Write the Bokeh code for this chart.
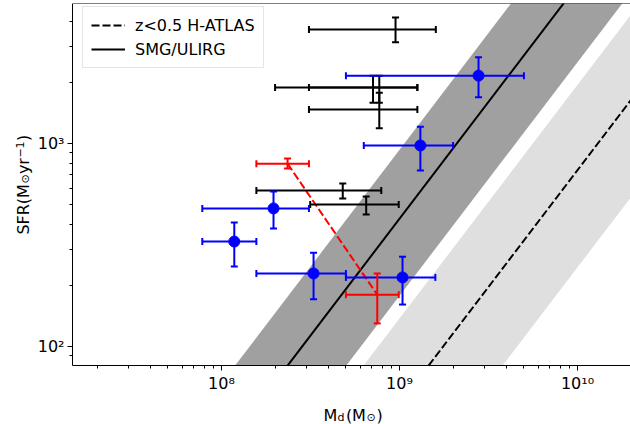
import numpy as np
from bokeh.plotting import figure
from bokeh.models import (ColumnDataSource, Whisker, TeeHead, Label, FixedTicker,
                          CustomJSTickFormatter, Legend, LegendItem, Range1d, LogAxis)
from bokeh.embed import file_html
from bokeh.resources import INLINE

# ---------------- data ----------------
black_md = [9.5e8, 7.1e8, 7.7e8, 7.7e8, 4.8e8, 6.5e8]
black_md_lo = [3.1e8, 2.0e8, 3.1e8, 3.1e8, 1.57e8, 3.15e8]
black_md_hi = [1.6e9, 1.26e9, 1.26e9, 1.26e9, 7.9e8, 9.9e8]
black_sfr = [3650, 1890, 1890, 1470, 587, 501]
black_sfr_lo = [3150, 1590, 1590, 1190, 536, 447]
black_sfr_hi = [4180, 2160, 2160, 1780, 635, 548]

blue_md = [2.78e9, 1.31e9, 1.96e8, 1.18e8, 3.29e8, 1.04e9]
blue_md_lo = [5.0e8, 6.3e8, 7.8e7, 7.8e7, 1.57e8, 5.0e8]
blue_md_hi = [5.0e9, 2.0e9, 3.1e8, 1.57e8, 5.0e8, 1.59e9]
blue_sfr = [2160, 978, 479, 329, 229, 219]
blue_sfr_lo = [1690, 736, 381, 248, 171, 161]
blue_sfr_hi = [2660, 1210, 580, 408, 290, 277]

red_md = [2.35e8, 7.5e8]
red_md_lo = [1.57e8, 5.0e8]
red_md_hi = [3.1e8, 9.9e8]
red_sfr = [796, 180]
red_sfr_lo = [753, 130]
red_sfr_hi = [844, 229]

# model relations: log Md = intercept + slope * log SFR (+ band offsets in dex)
rel_slope = 0.869
smg_intercept = 6.715
hatlas_intercept = 7.507
smg_band = [-0.295, 0.33]
hatlas_band = [-0.365, 0.416]

# axis limits (data area) and tick values
x_lim = [1.455e7, 1.985e10]
y_lim = [80.54, 4895.0]
x_major = [1e8, 1e9, 1e10]
y_major = [100, 1000]
x_minor = [m * 10.0 ** e for e in range(7, 11) for m in range(2, 10)]
y_minor = [m * 10.0 ** e for e in range(1, 4) for m in range(2, 10)]

labels = {"hatlas": "z<0.5 H-ATLAS", "smg": "SMG/ULIRG"}

FONT = "DejaVu Sans"

x_minor = [v for v in x_minor if x_lim[0] <= v <= x_lim[1]]
y_minor = [v for v in y_minor if y_lim[0] <= v <= y_lim[1]]

# ---------------- figure ----------------
# frame spans the whole canvas; axes are pinned at the data-area edges
p = figure(width=630, height=424, x_axis_type="log", y_axis_type="log",
           x_range=Range1d(5.734e6, x_lim[1]), y_range=Range1d(41.3, y_lim[1]),
           output_backend="svg", toolbar_location=None,
           min_border_left=0, min_border_right=0, min_border_top=3,
           min_border_bottom=0)
p.grid.visible = False
p.outline_line_color = None
p.background_fill_color = "white"
p.border_fill_color = "white"


def md_of(sfr, intercept, off=0.0):
    return 10 ** (intercept + rel_slope * np.log10(np.asarray(sfr)) + off)


s0, s1 = y_lim[0], 8000.0
for intercept, band, col in [(hatlas_intercept, hatlas_band, "#dfdfdf"),
                             (smg_intercept, smg_band, "#a0a0a0")]:
    xs = [md_of(s0, intercept, band[0]), md_of(s1, intercept, band[0]),
          md_of(s1, intercept, band[1]), md_of(s0, intercept, band[1])]
    ys = [s0, s1, s1, s0]
    p.patch(xs, ys, fill_color=col, line_color=None)

line_sfr = [s0, s1]
r_dash = p.line(md_of(line_sfr, hatlas_intercept), line_sfr,
                line_color="black", line_width=2, line_dash="8 3")
r_solid = p.line(md_of(line_sfr, smg_intercept), line_sfr,
                 line_color="black", line_width=2)


def errorbars(md, mlo, mhi, sfr, slo, shi, color, lw):
    src = ColumnDataSource(dict(md=md, md_lo=mlo, md_hi=mhi,
                                sfr=sfr, sfr_lo=slo, sfr_hi=shi))
    for dim, base, lo, hi in [("width", "sfr", "md_lo", "md_hi"),
                              ("height", "md", "sfr_lo", "sfr_hi")]:
        w = Whisker(source=src, base=base, lower=lo, upper=hi, dimension=dim,
                    line_color=color, line_width=lw, level="annotation",
                    lower_head=TeeHead(size=7, line_color=color, line_width=lw),
                    upper_head=TeeHead(size=7, line_color=color, line_width=lw))
        p.add_layout(w)
    return src


errorbars(black_md, black_md_lo, black_md_hi, black_sfr, black_sfr_lo,
          black_sfr_hi, "black", 2)
bsrc = errorbars(blue_md, blue_md_lo, blue_md_hi, blue_sfr, blue_sfr_lo,
                 blue_sfr_hi, "#0000ff", 2)
p.scatter("md", "sfr", source=bsrc, size=11, color="#0000ff")
p.line(red_md, red_sfr, line_color="#ff0000", line_width=2, line_dash="8 3")
errorbars(red_md, red_md_lo, red_md_hi, red_sfr, red_sfr_lo, red_sfr_hi,
          "#ff0000", 2)

# ---------------- axes ----------------
fmt = CustomJSTickFormatter(code="""
const sup = {"0":"\u2070","1":"\u00b9","2":"\u00b2","3":"\u00b3","4":"\u2074",
             "5":"\u2075","6":"\u2076","7":"\u2077","8":"\u2078","9":"\u2079","-":"\u207b"};
const e = Math.round(Math.log10(tick));
return "10" + String(e).split("").map(c => sup[c]).join("");
""")
p.xaxis.ticker = FixedTicker(ticks=x_major, minor_ticks=x_minor)
p.yaxis.ticker = FixedTicker(ticks=y_major, minor_ticks=y_minor)
p.xaxis.fixed_location = y_lim[0]
p.yaxis.fixed_location = x_lim[0]
p.xaxis.bounds = tuple(x_lim)
p.yaxis.bounds = tuple(y_lim)
for ax in (p.xaxis[0], p.yaxis[0]):
    ax.formatter = fmt
    ax.axis_label = None
    ax.major_label_text_font = FONT
    ax.major_label_text_font_size = "16px"
    ax.major_label_text_color = "black"
    ax.axis_line_color = "black"
    ax.axis_line_width = 1
    ax.major_tick_line_color = "black"
    ax.minor_tick_line_color = "black"
    ax.major_tick_in = 0
    ax.major_tick_out = 5
    ax.minor_tick_in = 0
    ax.minor_tick_out = 3
    ax.major_label_standoff = 3

top_axis = LogAxis(fixed_location=y_lim[1], bounds=tuple(x_lim),
                   ticker=FixedTicker(ticks=[], minor_ticks=[]),
                   major_label_text_font_size="0px", major_tick_out=0,
                   minor_tick_out=0, axis_line_color="black", axis_line_width=1)
p.add_layout(top_axis, "above")

# axis labels composed of text pieces (offsets in px from the axes' corner)
x0, y0 = x_lim[0], y_lim[0]


def piece(text, dx, dy, size, angle=0.0):
    p.add_layout(Label(x=x0, y=y0, x_offset=dx, y_offset=dy, text=text,
                       text_font=FONT, text_font_size=f"{size}px",
                       text_color="black", angle=angle,
                       text_align="left", text_baseline="alphabetic"))


piece("M", 251, -50, 16)
piece("d", 265, -52, 11)
piece("(", 273.5, -50, 16)
piece("M", 279.5, -50, 16)
piece("\u2299", 294, -52, 11)
piece(")", 304, -50, 16)

A = np.pi / 2
piece("SFR(M", -49, 131, 16, A)
piece("\u2299", -47, 182, 11, A)
piece("yr", -49, 191.5, 16, A)
piece("\u22121", -52, 208, 11, A)
piece(")", -49, 224.5, 16, A)

legend = Legend(items=[LegendItem(label=labels["hatlas"], renderers=[r_dash]),
                       LegendItem(label=labels["smg"], renderers=[r_solid])],
                location=(82, 356), label_text_font=FONT,
                label_text_font_size="16px", label_text_color="black",
                glyph_width=34, glyph_height=20, label_height=20,
                label_standoff=10, padding=8, spacing=4,
                border_line_color="#cccccc", border_line_width=1,
                background_fill_color="white", background_fill_alpha=0.8)
p.add_layout(legend)

open("out.html", "w").write(file_html(p, INLINE))
